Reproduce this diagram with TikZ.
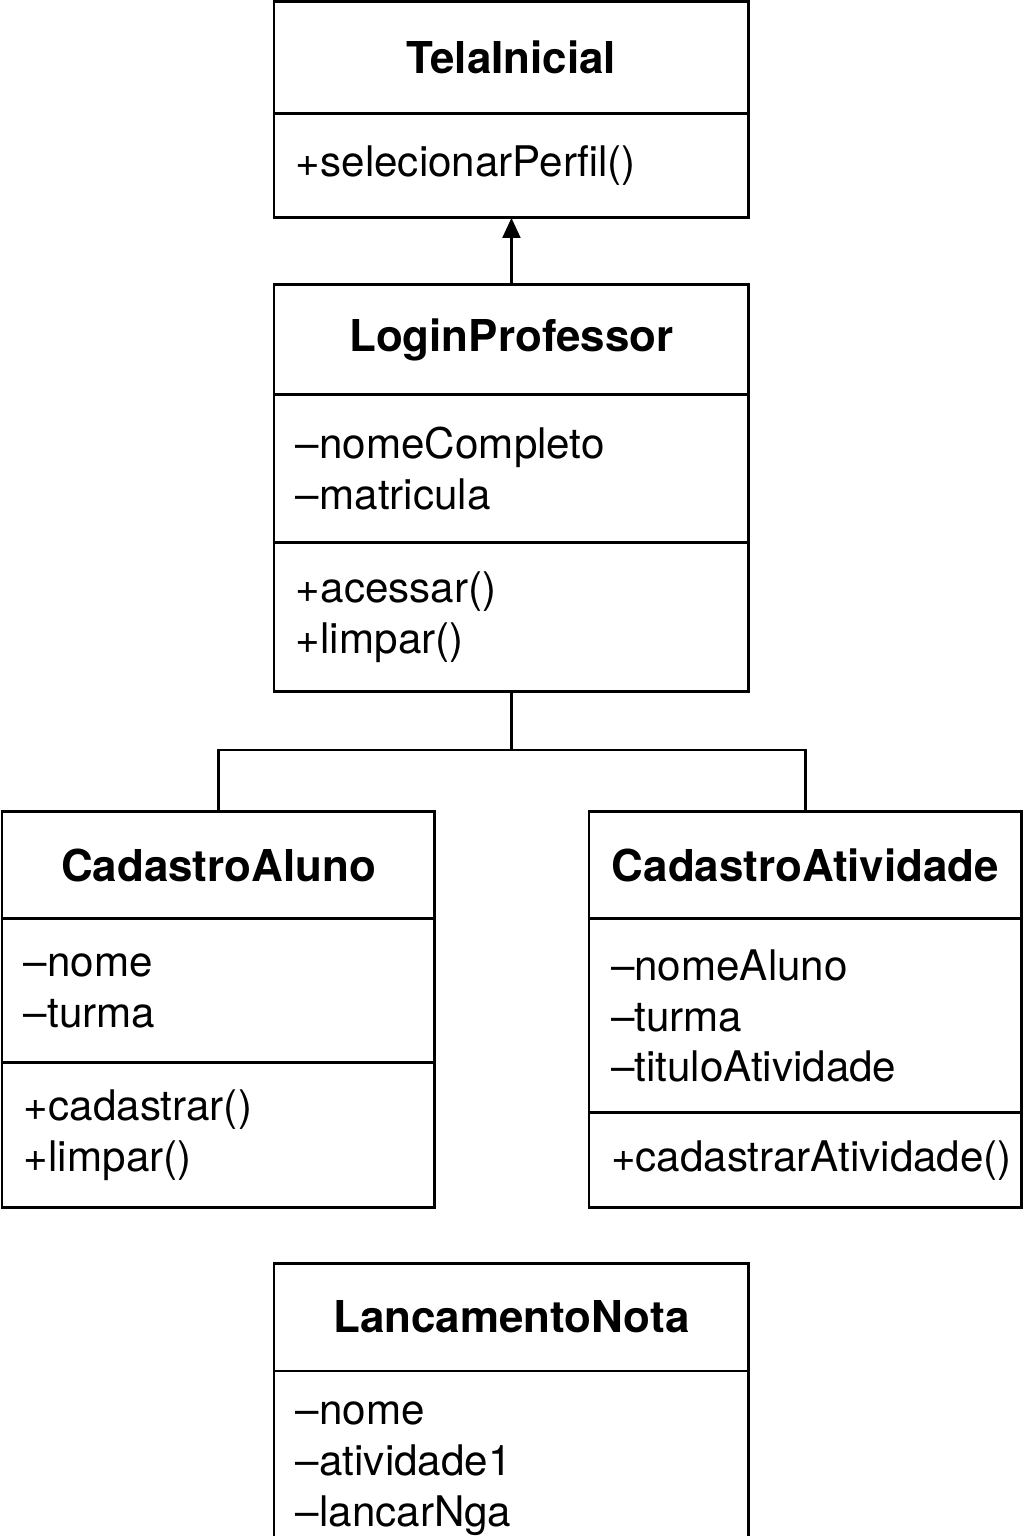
\documentclass[tikz,border=0pt]{standalone}
\usepackage{fontspec}
\setmainfont{TeX Gyre Heros}
\usetikzlibrary{arrows.meta,positioning}

\begin{document}
\begin{tikzpicture}[x=0.02cm,y=-0.02cm]
\tikzset{>={Triangle[length=0.4cm,width=0.36cm]},
  part/.style={draw,line width=1.7pt,outer sep=0pt,anchor=north west,inner xsep=0.44cm,inner ysep=0pt,align=left,font=\fontsize{24}{29}\selectfont},
  head/.style={part,align=center,font=\fontsize{25}{29}\selectfont\bfseries},
  widebox/.style={text width=8.62cm},
  narrowbox/.style={text width=7.78cm},
  link/.style={line width=1.2pt}}
\useasboundingbox (0,0) rectangle (1024,1536);
\clip (0,0) rectangle (1024,1536);

\node[head,widebox,minimum height=2.26cm] (tela) at (274,1) {TelaInicial};
\node[part,widebox,minimum height=2.08cm,below right=0pt of tela.south west] (tela-m) {+selecionarPerfil()};

\node[head,widebox,minimum height=2.22cm] (login) at (274,284) {LoginProfessor};
\node[part,widebox,minimum height=2.96cm,below right=0pt of login.south west] (login-a) {–nomeCompleto\\–matricula};
\node[part,widebox,minimum height=2.98cm,below right=0pt of login-a.south west] (login-m) {+acessar()\\+limpar()};

\node[head,narrowbox,minimum height=2.16cm] (aluno) at (2,811) {CadastroAluno};
\node[part,narrowbox,minimum height=2.88cm,below right=0pt of aluno.south west] (aluno-a) {–nome\\–turma};
\node[part,narrowbox,minimum height=2.9cm,below right=0pt of aluno-a.south west] (aluno-m) {+cadastrar()\\+limpar()};

\node[head,narrowbox,minimum height=2.16cm] (ativ) at (589,811) {CadastroAtividade};
\node[part,narrowbox,minimum height=3.88cm,below right=0pt of ativ.south west] (ativ-a) {–nomeAluno\\–turma\\–tituloAtividade};
\node[part,narrowbox,minimum height=1.9cm,below right=0pt of ativ-a.south west] (ativ-m) {+cadastrarAtividade()};

\node[head,widebox,minimum height=2.16cm] (nota) at (274,1263) {LancamentoNota};
\node[part,widebox,minimum height=3.92cm,below right=0pt of nota.south west] (nota-a) {–nome\\–atividade1\\–lancarNga};

\draw[->,link] (login.north) -- (tela-m.south);
\draw[link] (login-m.south) -- ++(0,58) coordinate (fork);
\draw[link] (aluno.north) |- (fork) -| (ativ.north);
\end{tikzpicture}
\end{document}
